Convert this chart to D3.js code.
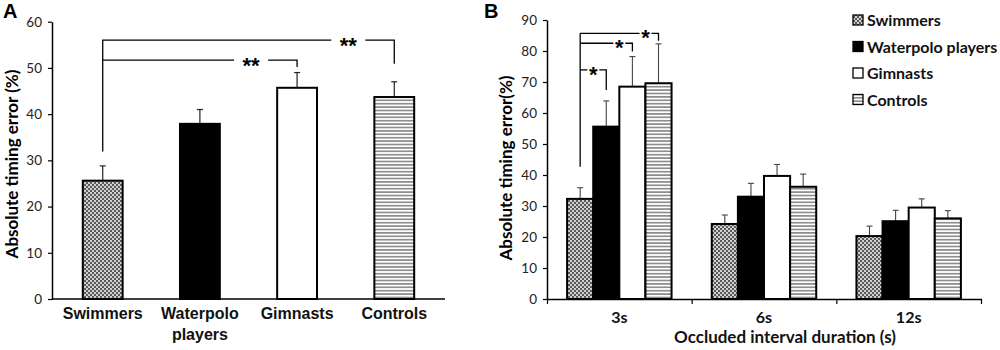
<!DOCTYPE html>
<html>
<head>
<meta charset="utf-8">
<script src="https://cdn.jsdelivr.net/npm/d3@7"></script>
<style>
  body { margin: 0; background: #fff; }
  svg { font-family: Lato, "Open Sans", sans-serif; }
</style>
</head>
<body>
<svg id="chart" width="1000" height="350"></svg>
<script>
// ---- panel A data ----
const groupsA = ["Swimmers", "Waterpolo players", "Gimnasts", "Controls"];
const meanA = [25.6, 37.9, 45.7, 43.7];
const errA = [3.2, 3.1, 3.3, 3.3];
const yTicksA = [0, 10, 20, 30, 40, 50, 60];
// significance brackets: from group, to group, bracket level, drop at start, drop at end
const sigA = [
  {from: 0, to: 3, level: 56.0, dropFrom: 31.9, dropTo: 50.9, label: "**"},
  {from: 0, to: 2, level: 51.7, dropFrom: 51.7, dropTo: 50.2, label: "**"}
];

// ---- panel B data ----
const durations = ["3s", "6s", "12s"];
const seriesB = ["Swimmers", "Waterpolo players", "Gimnasts", "Controls"];
const swimmersB = [32.3, 24.2, 20.3];
const waterpoloB = [55.6, 33.0, 25.1];
const gimnastsB = [68.5, 39.7, 29.5];
const controlsB = [69.6, 36.2, 26.0];
const swimmersErrB = [3.6, 2.9, 3.2];
const waterpoloErrB = [8.3, 4.3, 3.5];
const gimnastsErrB = [9.7, 3.7, 2.8];
const controlsErrB = [12.7, 4.1, 2.5];
const yTicksB = [0, 10, 20, 30, 40, 50, 60, 70, 80, 90];
// brackets inside the 3s group (series index), all starting from Swimmers
const sigB = [
  {to: 3, level: 85.7, dropTo: 83.3, label: "*"},
  {to: 2, level: 82.5, dropTo: 79.8, label: "*"},
  {to: 1, level: 73.9, dropTo: 67.4, label: "*"}
];
const sigBStart = 42.7;

const svg = d3.select("#chart");
const defs = svg.append("defs");

// checker pattern for swimmers
const chk = defs.append("pattern").attr("id", "checker")
  .attr("patternUnits", "userSpaceOnUse").attr("width", 4).attr("height", 4);
chk.append("rect").attr("width", 4).attr("height", 4).attr("fill", "#d0d0d0");
chk.append("rect").attr("width", 2).attr("height", 2).attr("fill", "#5a5a5a");
chk.append("rect").attr("x", 2).attr("y", 2).attr("width", 2).attr("height", 2).attr("fill", "#5a5a5a");

// horizontal stripes for controls
const str = defs.append("pattern").attr("id", "stripes")
  .attr("patternUnits", "userSpaceOnUse").attr("width", 4).attr("height", 3.4);
str.append("rect").attr("width", 4).attr("height", 3.4).attr("fill", "#fff");
str.append("rect").attr("y", 1).attr("width", 4).attr("height", 1.4).attr("fill", "#777");

const fills = d3.scaleOrdinal()
  .domain(seriesB)
  .range(["url(#checker)", "#000", "#fff", "url(#stripes)"]);

function styleAxis(g) {
  g.select(".domain").attr("stroke", "#000").attr("stroke-width", 1.5);
  g.selectAll(".tick line").attr("stroke", "#000").attr("stroke-width", 1.2);
  g.selectAll(".tick text").style("font-size", "13.5px").attr("fill", "#222")
    .attr("font-family", "Lato, sans-serif");
}

// ================= panel A =================
const A = svg.append("g");
const xA = d3.scaleBand().domain(groupsA).range([52, 445])
  .paddingInner(0.59).paddingOuter(0.317);
const yA = d3.scaleLinear().domain([0, 60]).range([299, 21.7]);

A.append("g").attr("transform", "translate(52,0)")
  .call(d3.axisLeft(yA).tickValues(yTicksA).tickSize(4).tickSizeOuter(0).tickPadding(6))
  .call(styleAxis);

// error bars
const ebA = A.append("g").attr("stroke", "#222").attr("stroke-width", 1.2);
groupsA.forEach((g, i) => {
  const cx = xA(g) + xA.bandwidth() / 2;
  ebA.append("line").attr("x1", cx).attr("x2", cx).attr("y1", yA(meanA[i])).attr("y2", yA(meanA[i] + errA[i]));
  ebA.append("line").attr("x1", cx - 3).attr("x2", cx + 3).attr("y1", yA(meanA[i] + errA[i])).attr("y2", yA(meanA[i] + errA[i]));
});

A.append("g").selectAll("rect").data(groupsA).join("rect")
  .attr("x", d => xA(d))
  .attr("y", (d, i) => yA(meanA[i]))
  .attr("width", xA.bandwidth())
  .attr("height", (d, i) => yA(0) - yA(meanA[i]))
  .attr("fill", d => fills(d))
  .attr("stroke", "#000").attr("stroke-width", 2);

const xAxisA = A.append("g").attr("transform", "translate(0,299)")
  .call(d3.axisBottom(xA).tickSize(0).tickSizeOuter(0).tickFormat(""));
xAxisA.select(".domain").attr("stroke", "#000").attr("stroke-width", 1.5)
  .attr("d", "M52,0H445");
xAxisA.selectAll(".tick").each(function(d) {
  const words = d === "Waterpolo players" ? ["Waterpolo", "players"] : [d];
  const t = d3.select(this).append("text").attr("fill", "#111")
    .style("font-size", "16px").attr("font-weight", "bold").attr("text-anchor", "middle");
  words.forEach((w, k) => t.append("tspan").attr("x", 0).attr("y", 20 + k * 21).text(w));
});

// brackets A
const brA = A.append("g").attr("fill", "none").attr("stroke", "#000").attr("stroke-width", 1.3);
sigA.forEach(s => {
  const x1 = xA(groupsA[s.from]) + xA.bandwidth() / 2;
  const x2 = xA(groupsA[s.to]) + xA.bandwidth() / 2;
  const y = yA(s.level);
  const tx = x2 - 46;
  brA.append("path").attr("d", `M${x1},${yA(s.dropFrom)}V${y}H${tx - 17}`);
  brA.append("path").attr("d", `M${tx + 17},${y}H${x2}V${yA(s.dropTo)}`);
  A.append("text").attr("x", tx).attr("y", y + 13).attr("text-anchor", "middle")
    .attr("font-family", "Liberation Sans, Arial, sans-serif")
    .attr("font-size", 22).attr("font-weight", "bold").text(s.label);
});

A.append("text").attr("transform", "translate(18,164) rotate(-90)")
  .attr("text-anchor", "middle").attr("font-size", 17).attr("font-weight", "bold")
  .text("Absolute timing error (%)");
A.append("text").attr("x", 3).attr("y", 18).attr("font-family", "Liberation Sans, Arial, sans-serif")
  .attr("font-size", 20).attr("font-weight", "bold").text("A");

// ================= panel B =================
const B = svg.append("g");
const valsB = [swimmersB, waterpoloB, gimnastsB, controlsB];
const errsB = [swimmersErrB, waterpoloErrB, gimnastsErrB, controlsErrB];
const x0 = d3.scaleBand().domain(durations).range([547, 981]).padding(0);
const x1 = d3.scaleBand().domain(seriesB).range([0, x0.bandwidth()])
  .paddingInner(0).paddingOuter(0.77);
const yB = d3.scaleLinear().domain([0, 90]).range([299, 20]);

B.append("g").attr("transform", "translate(547,0)")
  .call(d3.axisLeft(yB).tickValues(yTicksB).tickSize(4).tickSizeOuter(0).tickPadding(6))
  .call(styleAxis);

const cells = [];
durations.forEach((d, j) => seriesB.forEach((s, i) => {
  cells.push({dur: d, ser: s, v: valsB[i][j], e: errsB[i][j]});
}));

const ebB = B.append("g").attr("stroke", "#444").attr("stroke-width", 1.1);
cells.forEach(c => {
  const cx = x0(c.dur) + x1(c.ser) + x1.bandwidth() / 2;
  ebB.append("line").attr("x1", cx).attr("x2", cx).attr("y1", yB(c.v)).attr("y2", yB(c.v + c.e));
  ebB.append("line").attr("x1", cx - 3).attr("x2", cx + 3).attr("y1", yB(c.v + c.e)).attr("y2", yB(c.v + c.e));
});

B.append("g").selectAll("rect").data(cells).join("rect")
  .attr("x", d => x0(d.dur) + x1(d.ser))
  .attr("y", d => yB(d.v))
  .attr("width", x1.bandwidth())
  .attr("height", d => yB(0) - yB(d.v))
  .attr("fill", d => fills(d.ser))
  .attr("stroke", "#000").attr("stroke-width", 2);

// group boundary ticks
const xEdge = d3.scaleLinear().domain([0, durations.length]).range([547, 981]);
B.append("g").attr("transform", "translate(0,299)")
  .call(d3.axisBottom(xEdge).tickValues(d3.range(durations.length + 1)).tickFormat("").tickSize(5).tickSizeOuter(0))
  .call(styleAxis);
// category labels
const xLabB = B.append("g").attr("transform", "translate(0,299)")
  .call(d3.axisBottom(x0).tickSize(0).tickSizeOuter(0).tickPadding(13));
xLabB.select(".domain").remove();
xLabB.selectAll(".tick text").style("font-size", "16px").attr("font-weight", "bold").attr("fill", "#111")
  .attr("font-family", "Lato, sans-serif");

B.append("text").attr("x", 785).attr("y", 343).attr("text-anchor", "middle")
  .attr("font-size", 17).attr("font-weight", "bold").attr("fill", "#111")
  .text("Occluded interval duration (s)");

// brackets B
const brB = B.append("g").attr("fill", "none").attr("stroke", "#000").attr("stroke-width", 1.3);
const bx = s => x0(durations[0]) + x1(s) + x1.bandwidth() / 2;
const startX = bx(seriesB[0]);
brB.append("path").attr("d", `M${startX},${yB(sigBStart)}V${yB(sigB[0].level)}`);
sigB.forEach(s => {
  const x2 = bx(seriesB[s.to]);
  const y = yB(s.level);
  const tx = x2 - 13;
  brB.append("path").attr("d", `M${startX},${y}H${tx - 6}`);
  brB.append("path").attr("d", `M${tx + 6},${y}H${x2}V${yB(s.dropTo)}`);
  B.append("text").attr("x", tx).attr("y", y + 12).attr("text-anchor", "middle")
    .attr("font-family", "Liberation Sans, Arial, sans-serif")
    .attr("font-size", 22).attr("font-weight", "bold").text(s.label);
});

B.append("text").attr("transform", "translate(512,168) rotate(-90)")
  .attr("text-anchor", "middle").attr("font-size", 17).attr("font-weight", "bold")
  .text("Absolute timing error(%)");
B.append("text").attr("x", 484).attr("y", 18).attr("font-family", "Liberation Sans, Arial, sans-serif")
  .attr("font-size", 20).attr("font-weight", "bold").text("B");

// legend
const leg = B.append("g").attr("transform", "translate(853,0)");
seriesB.forEach((s, i) => {
  const row = leg.append("g").attr("transform", `translate(0,${20 + i * 26.5})`);
  row.append("rect").attr("x", 0).attr("y", -5).attr("width", 10).attr("height", 10)
    .attr("fill", fills(s)).attr("stroke", "#000").attr("stroke-width", 1.3);
  row.append("text").attr("x", 14).attr("y", 6).attr("font-size", 16).attr("font-weight", "bold")
    .attr("fill", "#111").text(s);
});
</script>
</body>
</html>
